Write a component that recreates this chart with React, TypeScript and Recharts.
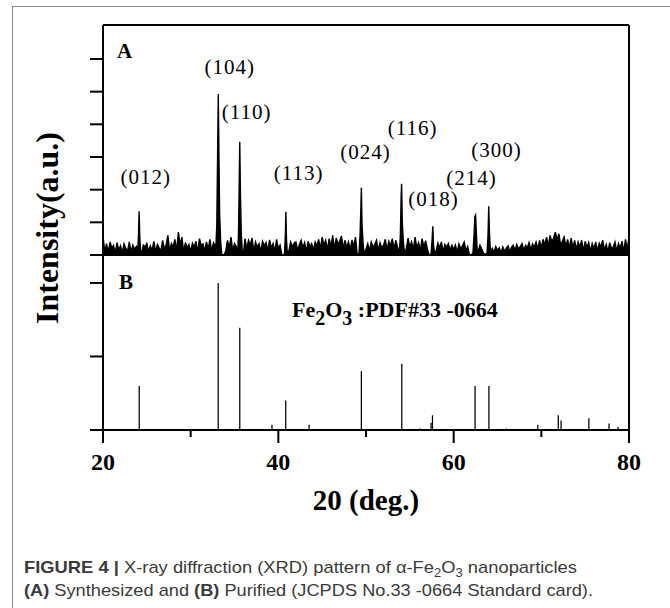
import React from 'react';
import { ComposedChart, Area, BarChart, Bar, XAxis, YAxis, ReferenceDot, Label } from 'recharts';

// ---------- Panel A: measured pattern (synthesized) ----------
const THETA_START = 20;
const THETA_STEP = 0.2;
// background counts sampled every 0.2 deg from 20 to 80 (1 tick = 100)
const noiseA = [
  58, 10, 35, 8, 40, 22, 30, 6, 38, 15,
  28, 6, 34, 20, 12, 40, 8, 30, 18, 26,
  5, 0, 6, 30, 25, 35, 10, 28, 14, 42,
  10, 32, 22, 12, 45, 20, 30, 60, 12, 35,
  25, 48, 12, 70, 30, 55, 8, 38, 22, 32,
  10, 36, 24, 42, 8, 50, 30, 34, 12, 40,
  18, 48, 10, 38, 28, 45, 0, 0, 0, 0,
  12, 45, 22, 55, 12, 35, 26, 40, 0, 0,
  0, 50, 18, 45, 30, 52, 12, 40, 24, 35,
  10, 42, 28, 38, 12, 46, 22, 35, 10, 48,
  20, 30, 0, 0, 0, 30, 12, 40, 25, 36,
  40, 14, 32, 45, 22, 38, 10, 42, 26, 35,
  14, 40, 28, 48, 18, 55, 30, 45, 16, 50,
  25, 60, 18, 52, 34, 42, 58, 20, 45, 24,
  40, 16, 46, 26, 55, 0, 0, 0, 30, 8,
  18, 35, 12, 40, 24, 32, 45, 14, 38, 22,
  30, 48, 16, 42, 28, 50, 18, 45, 24, 0,
  0, 0, 45, 20, 52, 24, 40, 16, 55, 22,
  38, 14, 50, 24, 44, 18, 0, 0, 30, 42,
  12, 36, 22, 40, 10, 32, 24, 35, 14, 30,
  16, 30, 8, 34, 20, 28, 40, 14, 26, 0,
  0, 0, 0, 35, 12, 30, 18, 5, 3, 0,
  0, 0, 20, 8, 26, 14, 22, 6, 25, 12,
  20, 28, 10, 24, 30, 14, 32, 18, 26, 35,
  14, 30, 22, 38, 16, 34, 24, 40, 18, 45,
  22, 48, 30, 55, 28, 60, 40, 52, 70, 45,
  65, 30, 42, 55, 25, 48, 20, 52, 22, 45,
  16, 40, 24, 45, 12, 42, 22, 38, 10, 35,
  18, 40, 12, 36, 24, 45, 14, 32, 10, 38,
  20, 24, 40, 12, 35, 20, 42, 10, 48, 16,
  55,
];

// diffraction peaks: [2theta, counts]
const peak012 = [[23.95, 5], [24.05, 60], [24.12, 134], [24.2, 50], [24.3, 6]];
const peak104 = [[32.85, 10], [32.98, 90], [33.07, 300], [33.15, 493], [33.22, 320], [33.3, 130], [33.42, 40], [33.55, 0]];
const peak110 = [[35.35, 0], [35.45, 60], [35.53, 200], [35.6, 347], [35.68, 180], [35.78, 60], [35.9, 5]];
const peak113 = [[40.7, 3], [40.8, 60], [40.86, 132], [40.93, 50], [41.02, 5]];
const peak024 = [[49.2, 5], [49.32, 60], [49.42, 150], [49.47, 206], [49.55, 90], [49.68, 30], [49.8, 3]];
const peak116 = [[53.8, 4], [53.92, 60], [54.0, 170], [54.06, 218], [54.14, 100], [54.26, 40], [54.4, 5]];
const peak018 = [[57.45, 12], [57.55, 50], [57.62, 88], [57.7, 30], [57.8, 10]];
const peak214 = [[62.2, 6], [62.32, 60], [62.42, 118], [62.5, 122], [62.6, 60], [62.7, 5]];
const peak300 = [[63.8, 4], [63.92, 60], [64.0, 149], [64.08, 70], [64.2, 5]];
const peaksA = [peak012, peak104, peak110, peak113, peak024, peak116, peak018, peak214, peak300];

// Miller-index annotations
const hklText = ['(012)', '(104)', '(110)', '(113)', '(024)', '(116)', '(018)', '(214)', '(300)'];
const hklTheta = [24.87, 34.45, 36.39, 42.31, 49.95, 55.31, 57.71, 62.04, 64.89];
const hklLevel = [239, 575, 438, 251, 315, 389, 171, 236, 321];

const ticksA = [0, 100, 200, 300, 400, 500, 600];

// ---------- Panel B: reference card PDF#33-0664 ----------
const sticksTheta = [24.14, 33.15, 35.61, 39.28, 40.85, 43.52, 49.48, 54.09, 56.15, 57.43, 57.59, 62.45, 64.03, 66.03, 69.6, 71.94, 72.26, 75.43, 77.73, 78.76];
const sticksI = [60, 200, 139, 7, 40, 7, 80, 90, 2, 10, 20, 60, 60, 2, 7, 20, 13, 16, 9, 4];
const ticksB = [0, 100, 200];

const xTicks = [20, 30, 40, 50, 60, 70, 80];
const xMajor = [20, 40, 60, 80];

// ---------- build tables ----------
const peakRanges = peaksA.map((p) => [p[0][0], p[p.length - 1][0]]);
const noisePts = noiseA
  .map((v, i) => ({ t: +(THETA_START + i * THETA_STEP).toFixed(2), v }))
  .filter((p) => !peakRanges.some(([a, b]) => p.t >= a && p.t <= b));
const dataA = [
  ...noisePts,
  ...peaksA.flat().map(([t, v]) => ({ t, v })),
].sort((a, b) => a.t - b.t);
const dataB = sticksTheta.map((t, i) => ({ t, h: sticksI[i] }));

const SERIF = '"Liberation Serif", "Times New Roman", serif';
const SANS = '"Liberation Sans", Arial, Helvetica, sans-serif';
const AX = { stroke: '#000', strokeWidth: 2 };

const XTick = (props: any) => {
  const { x, y, payload } = props;
  const major = xMajor.includes(payload.value);
  return (
    <g>
      <line x1={x} x2={x} y1={y} y2={y + (major ? 13 : 7)} stroke="#000" strokeWidth={2} />
      {major && (
        <text x={x} y={y + 40} textAnchor="middle" fontFamily={SERIF} fontWeight="bold" fontSize={24} fill="#000">
          {payload.value}
        </text>
      )}
    </g>
  );
};

const YTick = (props: any) => {
  const { x, y } = props;
  return <line x1={x} x2={x - 13} y1={y} y2={y} stroke="#000" strokeWidth={2} />;
};

const hklLabel = (text: string) => (props: any) => {
  const vb = props.viewBox || {};
  const cx = vb.x + (vb.width || 0) / 2;
  const cy = vb.y + (vb.height || 0) / 2;
  return (
    <text x={cx} y={cy} dy="0.35em" textAnchor="middle" fontFamily={SERIF} fontSize={21} letterSpacing={1} fill="#000">
      {text}
    </text>
  );
};

export default function App() {
  return (
    <div style={{ position: 'absolute', left: 0, top: 0, width: 670, height: 608, background: '#fff', overflow: 'hidden' }}>
      <div style={{ position: 'absolute', left: 12, top: 6, width: 700, height: 700, borderLeft: '1.5px solid #8a8a8a', borderTop: '1.5px solid #8a8a8a' }} />
      <div style={{ position: 'absolute', left: 0, top: 0 }}>
        <ComposedChart width={670} height={270} data={dataA} margin={{ top: 24, right: 40, bottom: 14, left: 102 }}>
          <XAxis dataKey="t" type="number" domain={[20, 80]} allowDataOverflow tick={false} tickLine={false} axisLine={AX} height={1} />
          <XAxis xAxisId="top" orientation="top" type="number" domain={[20, 80]} allowDataOverflow tick={false} tickLine={false} axisLine={AX} height={1} />
          <YAxis type="number" domain={[0, 704]} allowDataOverflow ticks={ticksA} interval={0} tick={<YTick />} tickSize={0} tickMargin={0} tickLine={false} axisLine={AX} width={1} />
          <YAxis yAxisId="r" orientation="right" type="number" domain={[0, 704]} allowDataOverflow tick={false} tickLine={false} axisLine={AX} width={1} />
          <Area dataKey="v" type="linear" stroke="#000" strokeWidth={1.4} fill="#000" fillOpacity={1} dot={false} activeDot={false} isAnimationActive={false} />
          {hklText.map((txt, i) => (
            <ReferenceDot key={txt} x={hklTheta[i]} y={hklLevel[i]} r={0} fill="none" stroke="none" label={hklLabel(txt)} />
          ))}
        </ComposedChart>
      </div>
      <div style={{ position: 'absolute', left: 0, top: 245 }}>
        <BarChart width={670} height={290} data={dataB} margin={{ top: 10, right: 40, bottom: 0, left: 102 }}>
          <XAxis dataKey="t" type="number" domain={[20, 80]} allowDataOverflow ticks={xTicks} tick={<XTick />} tickSize={0} tickMargin={0} tickLine={false} axisLine={AX} height={105} interval={0}>
            <Label value="20 (deg.)" position="insideBottom" offset={25} fontSize={29} fontWeight="bold" fontFamily={SERIF} fill="#000" />
          </XAxis>
          <YAxis type="number" domain={[0, 238]} allowDataOverflow ticks={ticksB} interval={0} tick={<YTick />} tickSize={0} tickMargin={0} tickLine={false} axisLine={AX} width={1} />
          <YAxis yAxisId="r" orientation="right" type="number" domain={[0, 238]} allowDataOverflow tick={false} tickLine={false} axisLine={AX} width={1} />
          <Bar dataKey="h" fill="#000" barSize={1.5} isAnimationActive={false} />
        </BarChart>
      </div>
      <svg width={670} height={608} style={{ position: 'absolute', left: 0, top: 0, pointerEvents: 'none' }}>
        <text transform="translate(58,228) rotate(-90)" textAnchor="middle" fontFamily={SERIF} fontWeight="bold" fontSize={32} fill="#000">
          Intensity(a.u.)
        </text>
        <text x={117} y={58} fontFamily={SERIF} fontWeight="bold" fontSize={21} fill="#000">A</text>
        <text x={119} y={289} fontFamily={SERIF} fontWeight="bold" fontSize={21} fill="#000">B</text>
        <text x={292} y={317} fontFamily={SERIF} fontWeight="bold" fontSize={22} fill="#000">
          Fe<tspan dy={8} fontSize={20}>2</tspan><tspan dy={-8}>O</tspan><tspan dy={8} fontSize={20}>3</tspan><tspan dy={-8}>{' :PDF#33 -0664'}</tspan>
        </text>
        <text x={24} y={573} fontFamily={SANS} fontSize={17} fill="#3a3a3a" textLength={553} lengthAdjust="spacingAndGlyphs">
          <tspan fontWeight="bold">{'FIGURE 4 | '}</tspan>
          {'X-ray diffraction (XRD) pattern of α-Fe'}
          <tspan dy={4} fontSize={12}>2</tspan>
          <tspan dy={-4}>O</tspan>
          <tspan dy={4} fontSize={12}>3</tspan>
          <tspan dy={-4}>{' nanoparticles'}</tspan>
        </text>
        <text x={24} y={596} fontFamily={SANS} fontSize={17} fill="#3a3a3a" textLength={569} lengthAdjust="spacingAndGlyphs">
          <tspan fontWeight="bold">(A)</tspan>
          {' Synthesized and '}
          <tspan fontWeight="bold">(B)</tspan>
          {' Purified (JCPDS No.33 -0664 Standard card).'}
        </text>
      </svg>
    </div>
  );
}
